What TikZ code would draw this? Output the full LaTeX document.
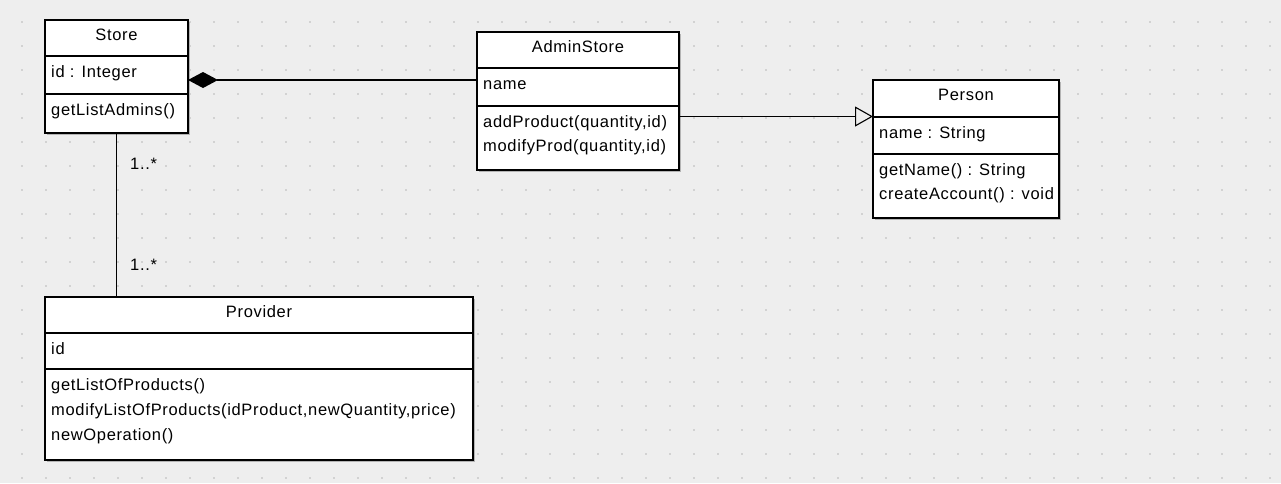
\documentclass[tikz,border=0pt]{standalone}
\usepackage{fontspec}
\setmainfont{Liberation Sans}[LetterSpace=4]
\usetikzlibrary{arrows.meta}
\definecolor{bgc}{HTML}{EEEEEE}
\definecolor{dotc}{HTML}{D2D2D2}
\definecolor{shadowc}{HTML}{B4B4B4}
\tikzset{
  classbox/.style={draw=black, line width=1.1pt, fill=white, anchor=north west, inner sep=0pt, outer sep=0pt},
  shadowbox/.style={fill=shadowc, anchor=north west, inner sep=0pt, outer sep=0pt},
  sep/.style={draw=black, line width=1.1pt},
  txt/.style={inner sep=0pt, font=\fontsize{16.5}{20}\selectfont, text=black},
  conn/.style={draw=black, line width=1.1pt},
}
\begin{document}
\begin{tikzpicture}[x=1pt,y=-1pt]
\useasboundingbox (0,0) rectangle (1281,483);
\fill[bgc] (0,0) rectangle (1281,483);
\foreach \i in {0,...,52}{
  \foreach \j in {0,...,19}{
    \fill[dotc] ({21+24*\i},{21+24*\j}) rectangle +(2,2);
  }
}
% shadows
\node[shadowbox, minimum width=143pt, minimum height=113pt] at (47,22) {};
\node[shadowbox, minimum width=202pt, minimum height=138pt] at (479,34) {};
\node[shadowbox, minimum width=186pt, minimum height=138pt] at (875,82) {};
\node[shadowbox, minimum width=428pt, minimum height=163pt] at (47,299) {};
% boxes
\node[classbox, minimum width=143pt, minimum height=113pt] (store) at (45,20) {};
\node[classbox, minimum width=202pt, minimum height=138pt] (admin) at (477,32) {};
\node[classbox, minimum width=186pt, minimum height=138pt] (person) at (873,80) {};
\node[classbox, minimum width=428pt, minimum height=163pt] (provider) at (45,297) {};
% compartments
\draw[sep] (store.west |- 0,56) -- (store.east |- 0,56);
\draw[sep] (store.west |- 0,94) -- (store.east |- 0,94);
\draw[sep] (admin.west |- 0,68) -- (admin.east |- 0,68);
\draw[sep] (admin.west |- 0,106) -- (admin.east |- 0,106);
\draw[sep] (person.west |- 0,117) -- (person.east |- 0,117);
\draw[sep] (person.west |- 0,154) -- (person.east |- 0,154);
\draw[sep] (provider.west |- 0,333) -- (provider.east |- 0,333);
\draw[sep] (provider.west |- 0,369) -- (provider.east |- 0,369);
% texts
\node[txt, anchor=base] (storeN) at (116.5,40.5) {Store};
\node[txt, anchor=base west] (storeA) at (51,77) {id : Integer};
\node[txt, anchor=base west] (storeM) at (51,115) {getListAdmins()};
\node[txt, anchor=base] (adminN) at (578,52.5) {AdminStore};
\node[txt, anchor=base west] (adminA) at (483,89) {name};
\node[txt, anchor=base west] (adminM1) at (483,127) {addProduct(quantity,id)};
\node[txt, anchor=base west] (adminM2) at (483,151) {modifyProd(quantity,id)};
\node[txt, anchor=base] (personN) at (966,100.5) {Person};
\node[txt, anchor=base west] (personA) at (879,138) {name : String};
\node[txt, anchor=base west] (personM1) at (879,175) {getName() : String};
\node[txt, anchor=base west] (personM2) at (879,199.5) {createAccount() : void};
\node[txt, anchor=base] (providerN) at (259,317.5) {Provider};
\node[txt, anchor=base west] (providerA) at (51,354) {id};
\node[txt, anchor=base west] (providerM1) at (51,390) {getListOfProducts()};
\node[txt, anchor=base west] (providerM2) at (51,415) {modifyListOfProducts(idProduct,newQuantity,price)};
\node[txt, anchor=base west] (providerM3) at (51,440) {newOperation()};
% connectors
\coordinate (compS) at (store.east |- 0,80);
\coordinate (compE) at (admin.west |- 0,80);
\draw[conn, {Diamond[length=30pt 0 0, width=16pt 0 0, fill=black]}-] (compS) -- (compE);
\coordinate (genS) at (admin.east |- 0,116.5);
\coordinate (genE) at (person.west |- 0,116.5);
\draw[conn, -{Triangle[open, length=18pt 0 0, width=20pt 0 0, fill=bgc]}] (genS) -- (genE);
\coordinate (asS) at (116.7,133);
\coordinate (asE) at (116.7,297);
\draw[conn] (store.south -| asS) -- (provider.north -| asE);
\node[txt, anchor=base west] (mult1) at (130,169) {1..*};
\node[txt, anchor=base west] (mult2) at (130,270) {1..*};
\end{tikzpicture}
\end{document}
